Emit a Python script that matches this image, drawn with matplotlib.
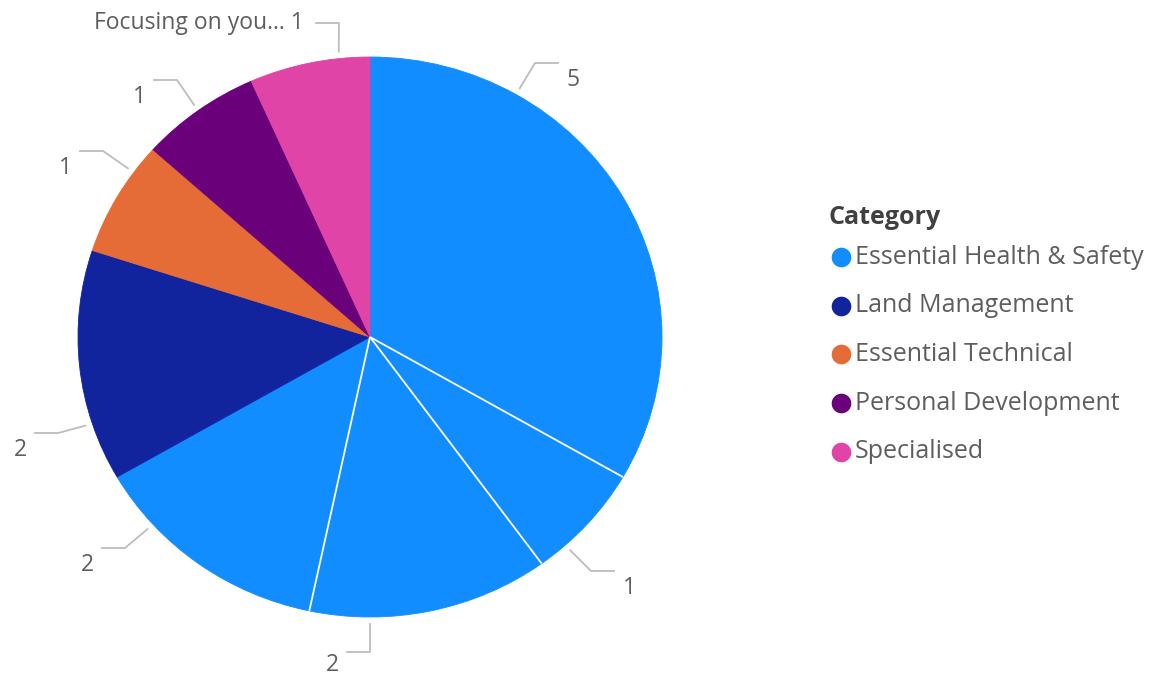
import numpy as np
import matplotlib.pyplot as plt

# Data ###############
categories = ['Essential Health & Safety', 'Land Management', 'Essential Technical',
              'Personal Development', 'Specialised']
cat_colors = ['#118DFF', '#12239E', '#E66C37', '#6B007B', '#E044A7']

slice_cat = [0, 0, 0, 0, 1, 2, 3, 4]
slice_values = [5, 1, 2, 2, 2, 1, 1, 1]
slice_detail = ['', '', '', '', '', '', '', 'Focusing on you...']
######################

W, H = 1159, 677
CX, CY = 370, 337        # pie centre, px
RX, RY = 292, 280        # pie radii, px

# leader lines: anchor angle (deg clockwise from top), elbow px, side (+1 right / -1 left)
label_layout = [
    (30, (535, 63), 1),
    (138, (591, 571), 1),
    (180, (370, 652), -1),
    (228, (125, 548), -1),
    (252, (58, 433), -1),
    (306, (103, 151), -1),
    (324, (177, 80), -1),
    (354, (339, 23), -1),
]

plt.rcParams['font.family'] = ['Open Sans', 'DejaVu Sans']
TXT = '#605E5C'
LEAD = '#BDBDBD'

fig = plt.figure(figsize=(W / 100, H / 100), dpi=100)

# pie axes sized in px so the pie comes out slightly wide
pie_ax = fig.add_axes([(CX - RX) / W, (H - CY - RY) / H, 2 * RX / W, 2 * RY / H])
colors = [cat_colors[c] for c in slice_cat]
wedges, _ = pie_ax.pie(slice_values, colors=colors, startangle=90, counterclock=False,
                       radius=1, wedgeprops=dict(linewidth=0.6))
for w, c in zip(wedges, colors):
    w.set_edgecolor(c)
pie_ax.set_aspect('auto')
pie_ax.set_xlim(-1, 1)
pie_ax.set_ylim(-1, 1)
pie_ax.axis('off')

# white separators between neighbouring slices of the same category
total = sum(slice_values)
bounds = np.cumsum([0] + slice_values) / total * 360
for i in range(len(slice_values) - 1):
    if slice_cat[i] == slice_cat[i + 1]:
        a = np.radians(bounds[i + 1])
        pie_ax.plot([0, np.sin(a)], [0, np.cos(a)], color='white', lw=1.3,
                    solid_capstyle='butt')

# overlay in pixel coordinates for labels and legend
ov = fig.add_axes([0, 0, 1, 1])
ov.set_xlim(0, W)
ov.set_ylim(H, 0)
ov.axis('off')

for val, det, (ang, (ex, ey), side) in zip(slice_values, slice_detail, label_layout):
    a = np.radians(ang)
    sx = CX + 1.025 * RX * np.sin(a)
    sy = CY - 1.025 * RY * np.cos(a)
    hx = ex + side * 23
    ov.plot([sx, ex, hx], [sy, ey, ey], color=LEAD, lw=1.3)
    if det:
        ov.text(hx - 12, ey, f'{det} {val}', ha='right', va='center',
                fontsize=16.5, color=TXT)
    else:
        ty = min(ey + 17, H - 12)   # keep the bottom label inside the canvas
        ov.text(hx + side * 15, ty, str(val), ha='center', va='center',
                fontsize=16.5, color=TXT)

# legend
ov.text(829, 217, 'Category', ha='left', va='center', fontsize=18,
        fontweight='bold', color='#404040')
for i, (name, col) in enumerate(zip(categories, cat_colors)):
    y = 257 + i * 48.7
    ov.scatter([841], [y], s=200, color=col, linewidths=0)
    ov.text(855, y, name, ha='left', va='center', fontsize=18, color=TXT)

fig.savefig('out.png', dpi=100)
